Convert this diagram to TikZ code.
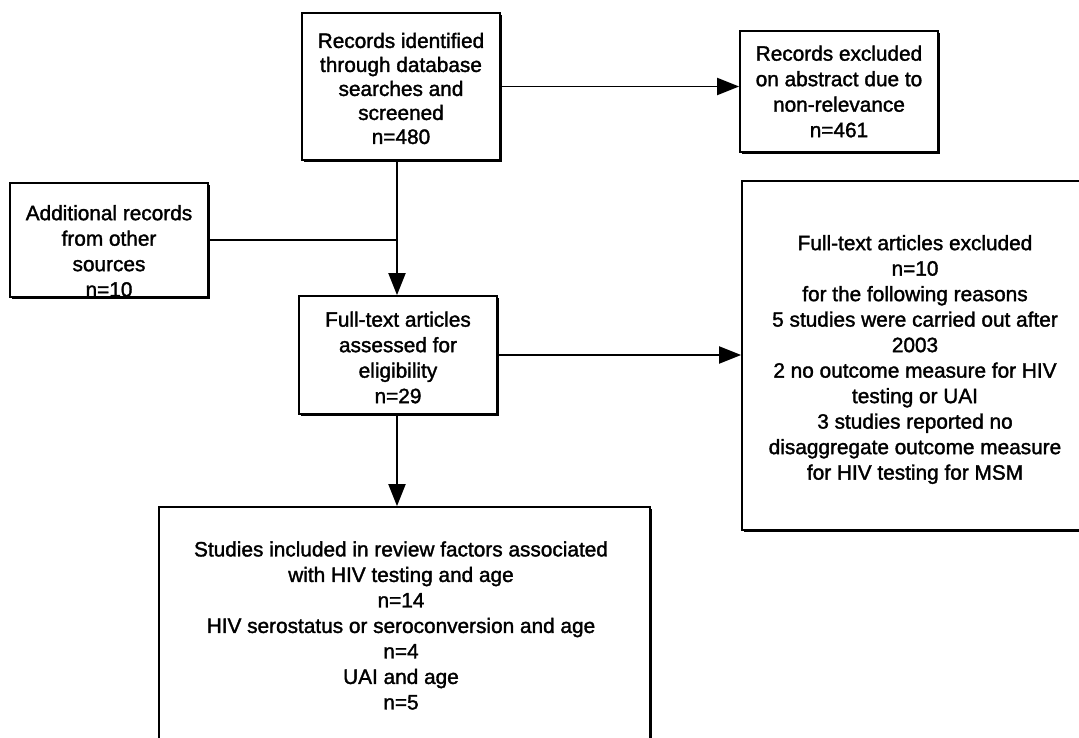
\documentclass[tikz,border=0pt]{standalone}
\usepackage{fontspec}
\setmainfont{Liberation Sans}[FakeBold=1.6]
\usetikzlibrary{arrows.meta,shadows}

\begin{document}
\begin{tikzpicture}[x=1pt,y=-1pt,
  box/.style={draw=black, line width=1.7pt, fill=white, inner sep=0pt,
    drop shadow={shadow xshift=2.2pt, shadow yshift=-2.2pt, fill=black, opacity=1}},
  txt/.style={align=center, inner sep=0pt, font=\fontsize{20.8}{25.5}\selectfont},
  link/.style={line width=1.9pt},
  arr/.style={link, -{Triangle[length=22pt,width=17pt]}}]

\useasboundingbox (0,0) rectangle (1079,738);
\clip (0,0) rectangle (1079,738);

% frames
\node[box, minimum width=198pt, minimum height=147pt] (b1) at (401,86.5) {};
\node[box, minimum width=198pt, minimum height=121pt] (b2) at (839,91.5) {};
\node[box, minimum width=198pt, minimum height=114pt] (b3) at (109,240) {};
\node[box, minimum width=198pt, minimum height=118pt] (b4) at (398,355) {};
\node[box, minimum width=350pt, minimum height=349pt] (b5) at (917,355.5) {};
\node[box, minimum width=491pt, minimum height=240pt] (b6) at (404.5,627) {};

% texts
\node[txt, font=\fontsize{20.8}{24}\selectfont] (t1) at (401,88.5)
  {Records identified\\through database\\searches and\\screened\\n=480};
\node[txt] (t2) at (839,91.5)
  {Records excluded\\on abstract due to\\non-relevance\\n=461};
\node[txt] (t3) at (109,251)
  {Additional records\\from other\\sources\\n=10};
\node[txt] (t4) at (398,357.5)
  {Full-text articles\\assessed for\\eligibility\\n=29};
\node[txt] (t5) at (915,359.5)
  {Full-text articles excluded\\n=10\\for the following reasons\\5 studies were carried out after\\2003\\2 no outcome measure for HIV\\testing or UAI\\3 studies reported no\\disaggregate outcome measure\\for HIV testing for MSM};
\node[txt] (t6) at (401,625.5)
  {Studies included in review factors associated\\with HIV testing and age\\n=14\\HIV serostatus or seroconversion and age\\n=4\\UAI and age\\n=5};

% connectors
\coordinate (j) at (397,240);
\draw[arr] (b1.east) -- (b1.east -| b2.west);
\draw[arr] (b1.south -| j) -- (b4.north -| j);
\draw[link] (b3.east) -- (b3.east -| j);
\draw[arr] (b4.east) -- (b4.east -| b5.west);
\draw[arr] (b4.south -| j) -- (b6.north -| j);
\end{tikzpicture}
\end{document}
